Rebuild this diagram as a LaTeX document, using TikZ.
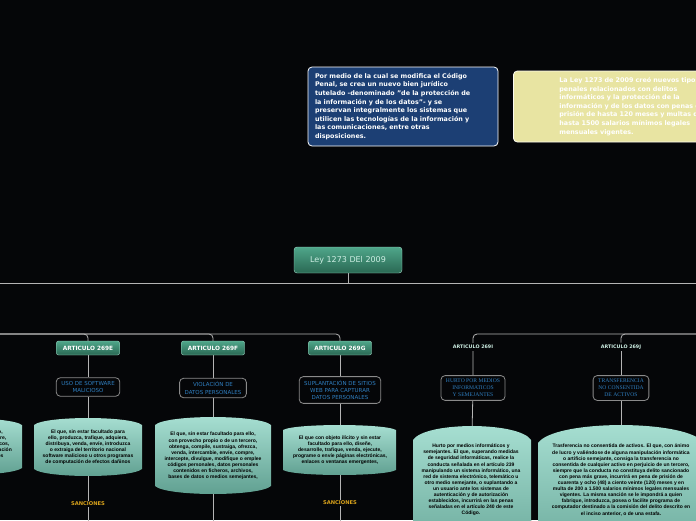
\documentclass[tikz,border=0pt]{standalone}
\usepackage{fontspec}
\setmainfont{DejaVu Sans}
\newfontfamily\textoarial{Liberation Sans}
\newfontfamily\textoserif{Liberation Serif}
\usepackage{tikz}
\usetikzlibrary{positioning}
\definecolor{fondo}{HTML}{050608}
\definecolor{linea}{HTML}{B4B4B4}
\definecolor{azulnota}{HTML}{1C3F74}
\definecolor{amarillo}{HTML}{E8E4A2}
\definecolor{verdeA}{HTML}{4FA68A}
\definecolor{verdeB}{HTML}{2A6853}
\definecolor{verdeborde}{HTML}{A2DCC8}
\definecolor{textoclaro}{HTML}{CDEEE3}
\definecolor{azultema}{HTML}{2F7FC1}
\definecolor{bordegris}{HTML}{8A8A8A}
\definecolor{barrilA}{HTML}{A8E0D3}
\definecolor{barrilM}{HTML}{94D2C4}
\definecolor{barrilB}{HTML}{5E9E8F}
\definecolor{dorado}{HTML}{D9A21B}
\pgfdeclarelayer{fondocapa}
\pgfdeclarelayer{cables}
\pgfsetlayers{fondocapa,cables,main}
% barril: x izq, x der, y lado arriba, y lado abajo, abombado
\newcommand{\barril}[5]{%
  \fill[top color=barrilA, middle color=barrilM, bottom color=barrilB]
    (#1,#3) -- (#1,#4)
    .. controls ({#1+0.1*((#2)-(#1))},{#4+1.33*#5}) and ({#2-0.1*((#2)-(#1))},{#4+1.33*#5}) .. (#2,#4)
    -- (#2,#3)
    .. controls ({#2-0.1*((#2)-(#1))},{#3-1.33*#5}) and ({#1+0.1*((#2)-(#1))},{#3-1.33*#5}) .. cycle;}

\begin{document}
\begin{tikzpicture}[x=1pt, y=-1pt,
    cable/.style={draw=linea, line width=0.8pt},
    nota/.style={rounded corners=4pt, draw=white, line width=0.8pt, text=white, align=left,
      font=\bfseries\fontsize{6.4}{8.6}\selectfont},
    ley/.style={draw=verdeborde, rounded corners=3pt, top color=verdeA, bottom color=verdeB,
      text=textoclaro, minimum width=108pt, minimum height=26pt, font=\fontsize{8}{9}\selectfont},
    articulo/.style={draw=verdeborde, rounded corners=2pt, top color=verdeA, bottom color=verdeB,
      text=white, minimum width=63pt, minimum height=14pt, inner sep=0pt,
      font=\bfseries\fontsize{5.8}{7}\selectfont},
    articulolibre/.style={text=textoclaro, inner sep=2pt, font=\bfseries\fontsize{4.8}{6}\selectfont},
    tema/.style={draw=bordegris, fill=fondo, rounded corners=4pt, line width=0.8pt, text=azultema,
      align=center, inner xsep=5pt, inner ysep=3.5pt, font=\fontsize{5.5}{7.3}\selectfont},
    temaserif/.style={tema, font=\textoserif\fontsize{5.6}{7}\selectfont},
    detalle/.style={align=center, text=black, inner sep=0pt,
      font=\textoarial\bfseries\fontsize{5}{6.1}\selectfont},
    sancion/.style={text=dorado, inner sep=1pt, font=\bfseries\fontsize{5.2}{6}\selectfont}]
    \useasboundingbox (0,0) rectangle (696,520);
    \begin{pgfonlayer}{fondocapa}
        \fill[fondo] (0,0) rectangle (696,520);
    \end{pgfonlayer}
    \clip (0,0) rectangle (696,520);

    % Notas de arriba
    \node[nota, fill=azulnota, minimum width=190pt, minimum height=79pt, text width=176pt] (motivo) at (403,106.5)
        {Por medio de la cual se modifica el Código\\
         Penal, se crea un nuevo bien jurídico\\
         tutelado -denominado "de la protección de\\
         la información y de los datos"- y se\\
         preservan integralmente los sistemas que\\
         utilicen las tecnologías de la información y\\
         las comunicaciones, entre otras\\
         disposiciones.};
    \node[nota, fill=amarillo, draw=white!85!amarillo, anchor=west, minimum width=292pt, minimum height=71pt,
        text width=200pt] (resumen) at (513,106.5)
        {La Ley 1273 de 2009 creó nuevos tipos\\
         penales relacionados con delitos\\
         informáticos y la protección de la\\
         información y de los datos con penas de\\
         prisión de hasta 120 meses y multas de\\
         hasta 1500 salarios mínimos legales\\
         mensuales vigentes.};

    % Nodo central
    \node[ley] (ley) at (348,260) {Ley 1273 DEl 2009};
    \coordinate (busI) at (0,283);
    \coordinate (busD) at (696,283);
    \coordinate (ramaI) at (0,334);
    \coordinate (ramaD) at (696,334);
    \coordinate (pie) at (0,530);

    % Articulos
    \node[articulo] (a269E) at (88,348) {ARTICULO 269E};
    \node[articulo] (a269F) at (213,348) {ARTICULO 269F};
    \node[articulo] (a269G) at (340,348) {ARTICULO 269G};
    \node[articulolibre] (a269I) at (473,347) {ARTICULO 269I};
    \node[articulolibre] (a269J) at (621,347) {ARTICULO 269J};

    \node[tema] (t269E) at (88,387) {USO DE SOFTWARE\\MALICIOSO};
    \node[tema] (t269F) at (213,388) {VIOLACIÓN DE\\DATOS PERSONALES};
    \node[tema] (t269G) at (340,390) {SUPLANTACIÓN DE SITIOS\\WEB PARA CAPTURAR\\DATOS PERSONALES};
    \node[temaserif] (t269I) at (473,388) {HURTO POR MEDIOS\\INFORMATICOS\\Y SEMEJANTES};
    \node[temaserif] (t269J) at (621,388) {TRANSFERENCIA\\NO CONSENTIDA\\DE ACTIVOS};

    % Descripciones
    \barril{-100}{22}{425}{468}{7}
    \node[detalle] (d269D) at (-40,444) {El que, sin estar facultado para ello,\\
        destruya, dañe, borre, deteriore, altere,\\
        o suprima datos o sistemas informáticos,\\
        o un sistema de tratamiento de información\\
        o sus partes o componentes lógicos};
    \barril{34}{142}{425}{469}{7}
    \node[detalle] (d269E) at (88,447) {El que, sin estar facultado para\\
        ello, produzca, trafique, adquiera,\\
        distribuya, venda, envíe, introduzca\\
        o extraiga del territorio nacional\\
        software malicioso u otros programas\\
        de computación de efectos dañinos};
    \barril{155}{271}{425}{486}{8}
    \node[detalle] (d269F) at (213,456) {El que, sin estar facultado para ello,\\
        con provecho propio o de un tercero,\\
        obtenga, compile, sustraiga, ofrezca,\\
        venda, intercambie, envíe, compre,\\
        intercepte, divulgue, modifique o emplee\\
        códigos personales, datos personales\\
        contenidos en ficheros, archivos,\\
        bases de datos o medios semejantes,};
    \barril{283}{396}{430}{470}{5}
    \node[detalle] (d269G) at (340,450) {El que con objeto ilícito y sin estar\\
        facultado para ello, diseñe,\\
        desarrolle, trafique, venda, ejecute,\\
        programe o envíe páginas electrónicas,\\
        enlaces o ventanas emergentes,};
    \barril{413}{531}{440}{560}{14}
    \node[detalle] (d269I) at (471,480) {Hurto por medios informáticos y\\
        semejantes. El que, superando medidas\\
        de seguridad informáticas, realice la\\
        conducta señalada en el artículo 239\\
        manipulando un sistema informático, una\\
        red de sistema electrónico, telemático u\\
        otro medio semejante, o suplantando a\\
        un usuario ante los sistemas de\\
        autenticación y de autorización\\
        establecidos, incurrirá en las penas\\
        señaladas en el artículo 240 de este\\
        Código.};
    \barril{538}{704}{443}{560}{18}
    \node[detalle] (d269J) at (621,480) {Trasferencia no consentida de activos. El que, con ánimo\\
        de lucro y valiéndose de alguna manipulación informática\\
        o artificio semejante, consiga la transferencia no\\
        consentida de cualquier activo en perjuicio de un tercero,\\
        siempre que la conducta no constituya delito sancionado\\
        con pena más grave, incurrirá en pena de prisión de\\
        cuarenta y ocho (48) a ciento veinte (120) meses y en\\
        multa de 200 a 1.500 salarios mínimos legales mensuales\\
        vigentes. La misma sanción se le impondrá a quien\\
        fabrique, introduzca, posea o facilite programa de\\
        computador destinado a la comisión del delito descrito en\\
        el inciso anterior, o de una estafa.};

    \node[sancion] (s269E) at (88,504) {SANCIONES};
    \node[sancion] (s269G) at (340,503) {SANCIONES};

    % Conectores
    \begin{pgfonlayer}{cables}
        \draw[cable] (ley) -- (ley |- busI);
        \draw[cable] (busI) -- (busD);
        \foreach \a in {269E,269F,269G}
            \draw[cable, rounded corners=4pt] (ramaI) -| (a\a);
        \foreach \a in {269I,269J}
            \draw[cable, rounded corners=4pt] (ramaD) -| (a\a);
        \foreach \a in {269E,269F,269G,269I,269J}
            \draw[cable] (a\a) -- (t\a) -- (d\a);
        \draw[cable] (d269E) -- (s269E) -- (s269E |- pie);
        \draw[cable] (d269G) -- (s269G) -- (s269G |- pie);
        \draw[cable] (d269F) -- (d269F |- pie);
    \end{pgfonlayer}
\end{tikzpicture}
\end{document}
